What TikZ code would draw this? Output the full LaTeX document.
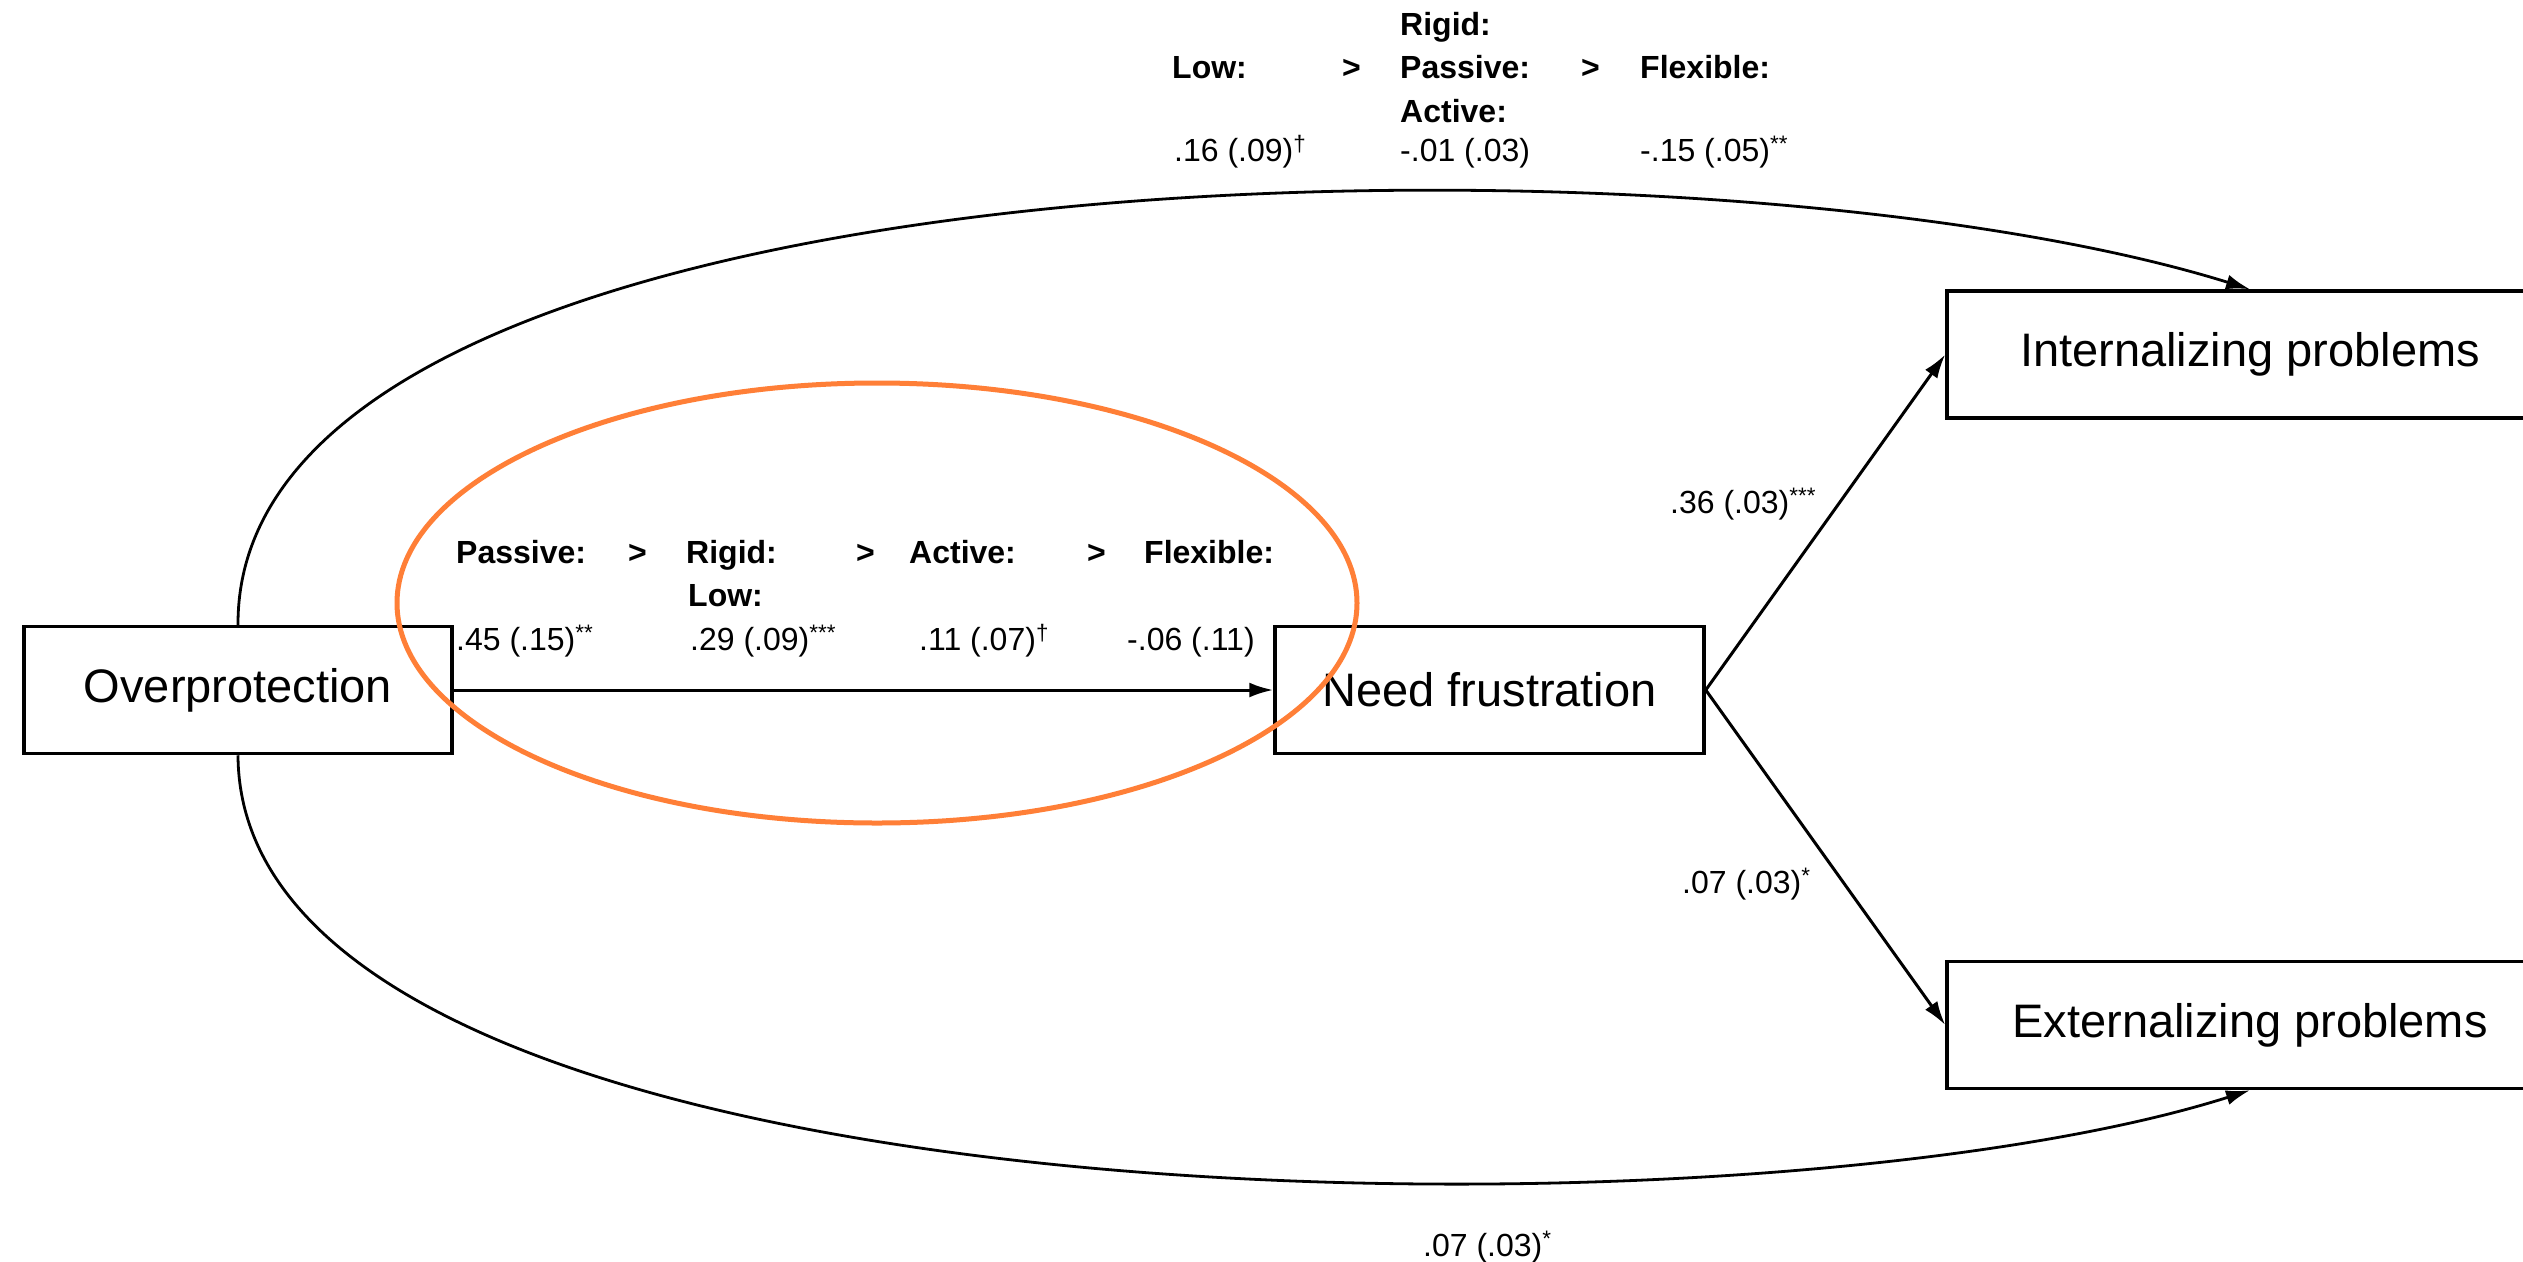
\documentclass[tikz,border=0pt]{standalone}
\usepackage{fontspec}
\setmainfont{Liberation Sans}
\usetikzlibrary{arrows.meta}

\definecolor{hiorange}{RGB}{255,127,55}

\tikzset{
  varbox/.style={draw, line width=3.5pt, inner sep=0pt, minimum width=#1,
    minimum height=127pt, font=\fontsize{47}{56}\selectfont},
  lbl/.style={inner sep=0pt, anchor=base west, font=\fontsize{32}{38}\selectfont},
  blbl/.style={lbl, font=\fontsize{32}{38}\selectfont\bfseries},
  path/.style={line width=3pt, -{Latex[length=24pt,width=15pt]}},
  curvepath/.style={line width=2.8pt, -{Latex[length=24pt,width=15pt]}},
  ring/.style={draw=hiorange, line width=5pt}
}

\begin{document}
\begin{tikzpicture}[x=1pt,y=-1pt]
\useasboundingbox (0,0) rectangle (2523,1261);
\clip (0,0) rectangle (2523,1261);
\fill[white] (0,0) rectangle (2523,1261);

% variables
\node[varbox=428pt] (over)   at (238,690)    {Overprotection};
\node[varbox=429pt] (need)   at (1489.5,690) {Need frustration};
\node[varbox=606pt] (intern) at (2250,354.5) {Internalizing problems};
\node[varbox=606pt] (extern) at (2250,1025)  {Externalizing problems};

% paths
\draw[path] (over.east) -- (need.west);
\draw[path] (need.east) -- (intern.west);
\draw[path] (need.east) -- (extern.west);
\draw[curvepath] (over.north) .. controls (236,140) and (1700,118) .. (intern.north);
\draw[curvepath] (over.south) .. controls (240,1235) and (1740,1252) .. (extern.south);

% direct effect on internalizing problems, by profile
\node[blbl] (tRigid)  at (1400,35)  {Rigid:};
\node[blbl] (tLow)    at (1172,78)  {Low:};
\node[blbl] (tGt1)    at (1342,78)  {>};
\node[blbl] (tPass)   at (1400,78)  {Passive:};
\node[blbl] (tGt2)    at (1581,78)  {>};
\node[blbl] (tFlex)   at (1640,78)  {Flexible:};
\node[blbl] (tAct)    at (1400,122) {Active:};
\node[lbl]  (tv1)     at (1174,161) {.16 (.09)\textsuperscript{†}};
\node[lbl]  (tv2)     at (1400,161) {-.01 (.03)};
\node[lbl]  (tv3)     at (1640,161) {-.15 (.05)\textsuperscript{**}};

% overprotection -> need frustration, by profile
\node[blbl] (mPass)   at (456,563)  {Passive:};
\node[blbl] (mGt1)    at (628,563)  {>};
\node[blbl] (mRigid)  at (686,563)  {Rigid:};
\node[blbl] (mGt2)    at (856,563)  {>};
\node[blbl] (mAct)    at (909,563)  {Active:};
\node[blbl] (mGt3)    at (1087,563) {>};
\node[blbl] (mFlex)   at (1144,563) {Flexible:};
\node[blbl] (mLow)    at (688,606)  {Low:};
\node[lbl]  (mv1)     at (456,650)  {.45 (.15)\textsuperscript{**}};
\node[lbl]  (mv2)     at (690,650)  {.29 (.09)\textsuperscript{***}};
\node[lbl]  (mv3)     at (919,650)  {.11 (.07)\textsuperscript{†}};
\node[lbl]  (mv4)     at (1127,650) {-.06 (.11)};

% remaining coefficients
\node[lbl] (cInt)  at (1670,513)  {.36 (.03)\textsuperscript{***}};
\node[lbl] (cExt)  at (1682,893)  {.07 (.03)\textsuperscript{*}};
\node[lbl] (cDir)  at (1423,1256) {.07 (.03)\textsuperscript{*}};

% highlight
\draw[ring] (877,603) ellipse [x radius=480pt, y radius=220pt];
\end{tikzpicture}
\end{document}
